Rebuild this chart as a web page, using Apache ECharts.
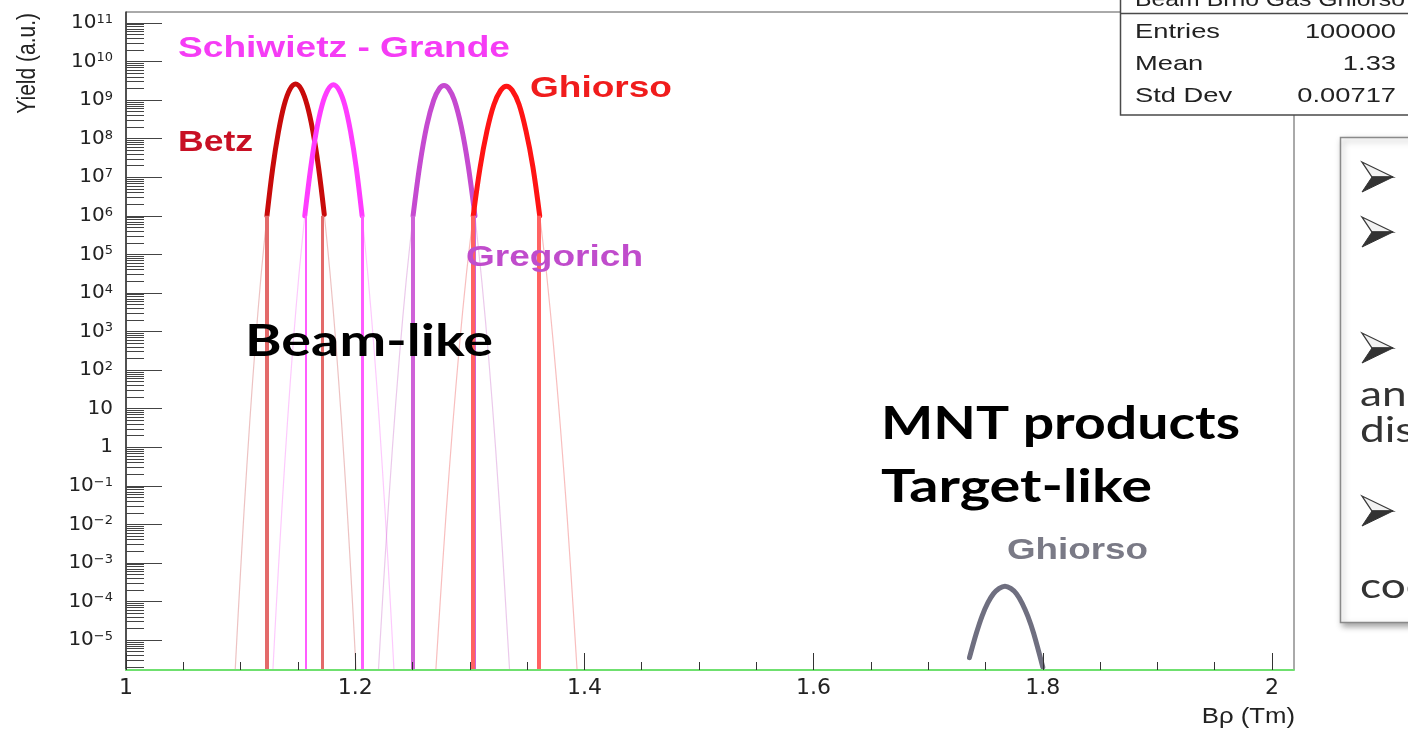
<!DOCTYPE html>
<html>
<head>
<meta charset="utf-8">
<script src="https://cdn.jsdelivr.net/npm/echarts@6/dist/echarts.min.js"></script>
<style>
  html, body { margin: 0; padding: 0; background: #ffffff; }
  #chart { width: 1408px; height: 731px; }
</style>
</head>
<body>
<div id="chart"></div>
<script>
// ---- axis ranges --------------------------------------------------------
const bRhoRange = [1, 2.0192];            // Bρ (Tm)
const logYieldRange = [-5.775, 11.284];   // log10 of yield (a.u.)
const xMajorTicks = [1, 1.2, 1.4, 1.6, 1.8, 2];
const xMinorTicks = [1.05, 1.1, 1.15, 1.25, 1.3, 1.35, 1.45, 1.5, 1.55, 1.65, 1.7, 1.75, 1.85, 1.9, 1.95];
const yDecades = [-5, -4, -3, -2, -1, 0, 1, 2, 3, 4, 5, 6, 7, 8, 9, 10, 11];
const dropTopYield = 1e6;

// ---- Betz ----------------------------------------------------------------
const betzB = [1.123, 1.128, 1.133, 1.138, 1.143, 1.148, 1.153, 1.158, 1.163, 1.168, 1.173];
const betzYield = [1.0e6, 1.7e7, 1.5e8, 7.4e8, 1.9e9, 2.6e9, 1.9e9, 7.5e8, 1.6e8, 1.8e7, 1.1e6];
const betzTailLeftB = [1.123, 1.118, 1.113, 1.108, 1.103, 1.098, 1.0953];
const betzTailLeftYield = [1.0e6, 3.2e4, 5.2e2, 4.6, 2.2e-2, 5.5e-5, 1.7e-6];
const betzTailRightB = [1.173, 1.178, 1.183, 1.188, 1.193, 1.198, 1.2007];
const betzTailRightYield = [1.1e6, 3.4e4, 5.6e2, 4.9, 2.4e-2, 6.0e-5, 1.7e-6];
const betzEdges = [1.123, 1.1715];

// ---- Schiwietz - Grande ----------------------------------------------------
const schB = [1.156, 1.161, 1.166, 1.171, 1.176, 1.181, 1.186, 1.191, 1.196, 1.201, 1.206];
const schYield = [1.0e6, 1.6e7, 1.5e8, 7.2e8, 1.8e9, 2.5e9, 1.8e9, 7.3e8, 1.5e8, 1.7e7, 1.0e6];
const schTailLeftB = [1.156, 1.151, 1.146, 1.141, 1.136, 1.131, 1.1282];
const schTailLeftYield = [1.0e6, 3.2e4, 5.5e2, 5.0, 2.4e-2, 6.3e-5, 1.7e-6];
const schTailRightB = [1.206, 1.211, 1.216, 1.221, 1.226, 1.231, 1.2338];
const schTailRightYield = [1.0e6, 3.1e4, 5.3e2, 4.8, 2.3e-2, 6.1e-5, 1.7e-6];
const schEdges = [1.1565, 1.2062];

// ---- Gregorich ---------------------------------------------------------------
const greB = [1.2505, 1.2565, 1.2625, 1.2685, 1.2735, 1.2775, 1.2815, 1.2865, 1.2925, 1.2985, 1.3045];
const greYield = [1.0e6, 2.2e7, 2.2e8, 1.0e9, 2.0e9, 2.4e9, 2.0e9, 1.0e9, 2.1e8, 2.1e7, 1.0e6];
const greTailLeftB = [1.2505, 1.2445, 1.2385, 1.2325, 1.2265, 1.2225, 1.2203];
const greTailLeftYield = [1.0e6, 2.1e4, 2.1e2, 0.98, 2.1e-3, 2.2e-5, 1.7e-6];
const greTailRightB = [1.3045, 1.3105, 1.3165, 1.3225, 1.3285, 1.3325, 1.3347];
const greTailRightYield = [1.0e6, 2.0e4, 2.0e2, 0.95, 2.0e-3, 2.1e-5, 1.7e-6];
const greEdges = [1.2505, 1.3040];

// ---- Ghiorso (beam) ----------------------------------------------------------
const ghiB = [1.303, 1.309, 1.315, 1.321, 1.327, 1.332, 1.337, 1.343, 1.349, 1.355, 1.361];
const ghiYield = [1.0e6, 1.8e7, 1.6e8, 7.6e8, 1.8e9, 2.3e9, 1.8e9, 7.7e8, 1.6e8, 1.9e7, 1.0e6];
const ghiTailLeftB = [1.303, 1.297, 1.291, 1.285, 1.279, 1.274, 1.2704];
const ghiTailLeftYield = [1.0e6, 3.0e4, 4.4e2, 3.4, 1.4e-2, 8.3e-5, 1.7e-6];
const ghiTailRightB = [1.361, 1.367, 1.373, 1.379, 1.385, 1.390, 1.3936];
const ghiTailRightYield = [1.0e6, 3.1e4, 4.5e2, 3.5, 1.5e-2, 8.5e-5, 1.7e-6];
const ghiEdges = [1.303, 1.3605];

// ---- Ghiorso (MNT, target-like) ---------------------------------------------
const mntB = [1.736, 1.742, 1.747, 1.752, 1.757, 1.762, 1.767, 1.772, 1.777, 1.782, 1.787, 1.792, 1.800];
const mntYield = [3.5e-6, 1.5e-5, 4.2e-5, 9.2e-5, 1.6e-4, 2.2e-4, 2.5e-4, 2.2e-4, 1.6e-4, 9.0e-5, 4.1e-5, 1.5e-5, 2.0e-6];

// ---- statistics box ----------------------------------------------------------
const statsTitle = 'Beam Brho Gas Ghiorso';
const statsNames = ['Entries', 'Mean', 'Std Dev'];
const statsValues = ['100000', '1.33', '0.00717'];

// ---- styling ---------------------------------------------------------------
const peakStyles = {
  betz: { core: '#c80a0a', drop: '#e36a6a', dropWidth: [4, 3], tail: 'rgba(215,120,120,0.45)' },
  sch:  { core: '#ff3cff', drop: '#ff5cff', dropWidth: [2, 3], tail: 'rgba(250,120,250,0.40)' },
  gre:  { core: '#c54ad0', drop: '#cf62d8', dropWidth: [4, 2], tail: 'rgba(205,120,205,0.40)' },
  ghi:  { core: '#ff1414', drop: '#ff6262', dropWidth: [4, 4], tail: 'rgba(240,110,110,0.45)' }
};

const peaks = [
  { name: 'Betz', core: [betzB, betzYield], left: [betzTailLeftB, betzTailLeftYield], right: [betzTailRightB, betzTailRightYield], edges: betzEdges, style: peakStyles.betz },
  { name: 'Schiwietz - Grande', core: [schB, schYield], left: [schTailLeftB, schTailLeftYield], right: [schTailRightB, schTailRightYield], edges: schEdges, style: peakStyles.sch },
  { name: 'Gregorich', core: [greB, greYield], left: [greTailLeftB, greTailLeftYield], right: [greTailRightB, greTailRightYield], edges: greEdges, style: peakStyles.gre },
  { name: 'Ghiorso', core: [ghiB, ghiYield], left: [ghiTailLeftB, ghiTailLeftYield], right: [ghiTailRightB, ghiTailRightYield], edges: ghiEdges, style: peakStyles.ghi }
];

const toPoints = (bs, ys) => bs.map((b, i) => [b, Math.log10(ys[i])]);

const series = [];
peaks.forEach(p => {
  [p.left, p.right].forEach(t => {
    series.push({
      type: 'line', name: p.name + ' tail', data: toPoints(t[0], t[1]),
      showSymbol: false, smooth: 0.3, silent: true, z: 1,
      lineStyle: { width: 1.2, color: p.style.tail }
    });
  });
});
peaks.forEach(p => {
  series.push({
    type: 'line', name: p.name, data: toPoints(p.core[0], p.core[1]),
    showSymbol: false, smooth: 0.35, z: 3,
    lineStyle: { width: 5, color: p.style.core, cap: 'round', join: 'round' },
    markLine: {
      silent: true, symbol: ['none', 'none'], label: { show: false },
      data: p.edges.map((b, i) => [
        { coord: [b, Math.log10(dropTopYield)], lineStyle: { color: p.style.drop, width: p.style.dropWidth[i], type: 'solid' } },
        { coord: [b, logYieldRange[0]] }
      ])
    }
  });
});
series.push({
  type: 'line', name: 'Ghiorso MNT', data: toPoints(mntB, mntYield),
  showSymbol: false, smooth: 0.35, z: 3,
  lineStyle: { width: 5, color: '#6f6f80', cap: 'round', join: 'round' }
});

// minor log ticks (2..9 within each decade)
const yMinorTicks = [];
for (let n = -6; n <= 11; n++) {
  for (let k = 2; k <= 9; k++) {
    const v = n + Math.log10(k);
    if (v > logYieldRange[0] && v < logYieldRange[1]) yMinorTicks.push(v);
  }
}

function decadeLabel(v) {
  const e = Math.round(v);
  if (e === 0) return '{b|1}';
  if (e === 1) return '{b|10}';
  return '{b|10}{s|' + (e < 0 ? '\u2212' + (-e) : e) + '}';
}

// ---- text annotations ----------------------------------------------------------
const measureCtx = document.createElement('canvas').getContext('2d');
function fitScale(text, font, width) {
  measureCtx.font = font;
  return width / measureCtx.measureText(text).width;
}
function label(text, x, y, opts) {
  const size = opts.size, family = opts.family, weight = opts.weight || 'normal';
  const font = weight + ' ' + size + 'px ' + family;
  const sx = opts.width ? fitScale(text, font, opts.width) : (opts.scaleX || 1);
  return {
    type: 'text', x: x, y: y, scaleX: sx, z: opts.z || 50,
    style: {
      text: text, fontSize: size, fontFamily: family, fontWeight: weight,
      fill: opts.color || '#000', textAlign: opts.align || 'left',
      textVerticalAlign: opts.valign || 'middle'
    }
  };
}
// bullet arrowhead: outlined upper half, filled lower half
function bullet(x, y) {
  const tip = [x + 31, y], back1 = [x, y - 15], notch = [x + 10, y], back2 = [x, y + 15];
  return [
    { type: 'polygon', z: 103, shape: { points: [tip, back1, notch] }, style: { fill: '#f2f2f2', stroke: '#3a3a3a', lineWidth: 1.3 } },
    { type: 'polygon', z: 103, shape: { points: [tip, notch, back2] }, style: { fill: '#333', stroke: '#333', lineWidth: 1 } }
  ];
}

const rootFont = '"Liberation Sans"';
const slideFont = 'Lato';
const graphics = [
  // curve labels
  label('Schiwietz - Grande', 178, 49, { size: 30, family: rootFont, weight: 'bold', color: '#f53cf5', width: 332 }),
  label('Betz', 178, 143, { size: 30, family: rootFont, weight: 'bold', color: '#c81024', width: 75 }),
  label('Ghiorso', 530, 89, { size: 30, family: rootFont, weight: 'bold', color: '#f01c1c', width: 142 }),
  label('Gregorich', 466, 258, { size: 30, family: rootFont, weight: 'bold', color: '#c04ccc', width: 177 }),
  label('Ghiorso', 1007, 551, { size: 30, family: rootFont, weight: 'bold', color: '#7a7a86', width: 141 }),
  // region annotations
  label('Beam-like', 245, 342, { size: 44, family: slideFont, weight: 'bold', color: '#000', width: 248 }),
  label('MNT products', 881, 424, { size: 46, family: slideFont, weight: 'bold', color: '#000', width: 359 }),
  label('Target-like', 881, 487, { size: 46, family: slideFont, weight: 'bold', color: '#000', width: 271 }),
  // axis titles
  {
    type: 'text', x: 28, y: 13, rotation: Math.PI / 2, scaleY: 1.25, z: 50,
    style: { text: 'Yield (a.u.)', fontSize: 21, fontFamily: rootFont, fill: '#222', textAlign: 'right', textVerticalAlign: 'middle' }
  },
  label('B\u03c1 (Tm)', 1295, 717, { size: 22, family: rootFont, color: '#222', align: 'right', scaleX: 1.17 }),
  // statistics box
  { type: 'rect', z: 100, shape: { x: 1120.5, y: -10, width: 300, height: 125 }, style: { fill: '#fff', stroke: '#4a4a4a', lineWidth: 1.5 } },
  { type: 'line', z: 101, shape: { x1: 1120, y1: 13.5, x2: 1408, y2: 13.5 }, style: { stroke: '#4a4a4a', lineWidth: 1.5 } },
  label(statsTitle, 1270, 11, { size: 21, family: rootFont, color: '#222', align: 'center', valign: 'bottom', width: 270, z: 102 })
];
statsNames.forEach((n, i) => {
  const y = [32.5, 64, 96][i];
  graphics.push(label(n, 1135, y, { size: 21, family: rootFont, color: '#222', scaleX: 1.3, z: 102 }));
  graphics.push(label(statsValues[i], 1396, y, { size: 21, family: rootFont, color: '#222', align: 'right', scaleX: 1.3, z: 102 }));
});
// side note box
graphics.push({
  type: 'rect', z: 100, shape: { x: 1340.5, y: 137.5, width: 100, height: 485 },
  style: { fill: '#fff', stroke: '#8a8a8a', lineWidth: 1.5, shadowBlur: 6, shadowOffsetX: 2, shadowOffsetY: 3, shadowColor: 'rgba(0,0,0,0.35)' }
});
[177, 232, 348, 511].forEach(y => { bullet(1362, y).forEach(g => graphics.push(g)); });
[['an', 395], ['dis', 431], ['coo', 587]].forEach(t => {
  graphics.push(label(t[0], 1360, t[1], { size: 34, family: slideFont, color: '#333', scaleX: 1.3, z: 102 }));
});

const option = {
  animation: false,
  backgroundColor: '#ffffff',
  grid: { left: 126, right: 114, top: 12, bottom: 61, show: true, borderColor: '#555', borderWidth: 1, backgroundColor: 'transparent' },
  xAxis: [
    {
      type: 'value', min: bRhoRange[0], max: bRhoRange[1], position: 'bottom', z: 5,
      axisLine: { show: true, onZero: false, lineStyle: { color: '#6fe06f', width: 2 } },
      axisTick: { show: true, inside: true, length: 17, customValues: xMajorTicks, lineStyle: { color: '#333', width: 1 } },
      axisLabel: { customValues: xMajorTicks, formatter: v => String(Number(v.toFixed(1))), fontFamily: 'DejaVu Sans', fontSize: 22, color: '#222', margin: 7 },
      splitLine: { show: false }
    },
    {
      type: 'value', min: bRhoRange[0], max: bRhoRange[1], position: 'bottom', z: 5,
      axisLine: { show: false, onZero: false },
      axisTick: { show: true, inside: true, length: 8, customValues: xMinorTicks, lineStyle: { color: '#333', width: 1 } },
      axisLabel: { show: false }, splitLine: { show: false }
    }
  ],
  yAxis: [
    {
      type: 'value', min: logYieldRange[0], max: logYieldRange[1], position: 'left', z: 5,
      axisLine: { show: true, onZero: false, lineStyle: { color: '#333', width: 1.5 } },
      axisTick: { show: true, inside: true, length: 36, customValues: yDecades, lineStyle: { color: '#444', width: 1 } },
      axisLabel: {
        customValues: yDecades, formatter: decadeLabel, margin: 13,
        rich: {
          b: { fontFamily: 'DejaVu Sans', fontSize: 20, color: '#222', lineHeight: 20 },
          s: { fontFamily: 'DejaVu Sans', fontSize: 13, color: '#222', lineHeight: 13, verticalAlign: 'top' }
        }
      },
      splitLine: { show: false }
    },
    {
      type: 'value', min: logYieldRange[0], max: logYieldRange[1], position: 'left', z: 5,
      axisLine: { show: false, onZero: false },
      axisTick: { show: true, inside: true, length: 18, customValues: yMinorTicks, lineStyle: { color: '#444', width: 1 } },
      axisLabel: { show: false }, splitLine: { show: false }
    }
  ],
  series: series,
  graphic: graphics
};

const chart = echarts.init(document.getElementById('chart'), null, { renderer: 'canvas' });
chart.setOption(option);
</script>
</body>
</html>
